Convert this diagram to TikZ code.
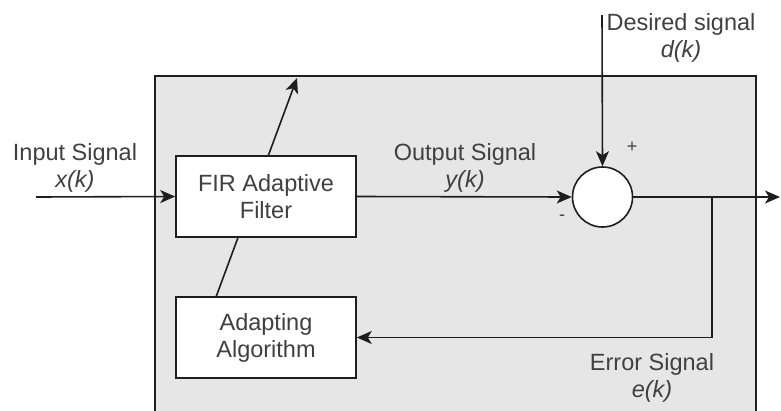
\documentclass[tikz,border=0pt]{standalone}
\usepackage{fontspec}
\setmainfont{Liberation Sans}
\usepackage{tikz}
\usetikzlibrary{arrows.meta}

\definecolor{panelgray}{RGB}{230,230,230}
\definecolor{linegray}{RGB}{30,30,30}
\definecolor{txtgray}{RGB}{64,64,64}

\tikzset{
  blockbox/.style={draw=linegray,fill=white,line width=1.6pt,minimum width=180pt,minimum height=81pt,inner sep=0pt,align=center,text=txtgray},
  sumnode/.style={draw=linegray,fill=white,circle,line width=1.6pt,minimum size=60pt,inner sep=0pt},
  siglabel/.style={inner sep=0pt,align=center,text=txtgray},
  sig/.style={draw=linegray,line width=1.6pt,-{Stealth[length=15pt,width=13pt,inset=4pt]}},
  wire/.style={draw=linegray,line width=1.6pt}
}

\begin{document}
\begin{tikzpicture}[x=1pt,y=1pt,yscale=-1,xscale=1,font=\fontsize{23.5}{27}\selectfont]
\clip (0,0) rectangle (781,410);

%Shape: Rectangle [panel]
\draw [draw=linegray,fill=panelgray,line width=1.6pt] (155,76) rectangle (756,430);

%Coordinates for free ends
\coordinate (inend) at (36,197);
\coordinate (dtop) at (602,15);
\coordinate (outend) at (780,197);
\coordinate (branch) at (712,197);
\coordinate (adfoot) at (216,297);
\coordinate (adtip) at (297,78);

%Straight Lines [adaptation arrow, behind the blocks]
\draw [sig] (adfoot) -- (adtip);

%Shape: Rectangle [FIR filter]
\node [blockbox] (fir) at (266,196.5) {FIR Adaptive\\Filter};
%Shape: Rectangle [adapting algorithm]
\node [blockbox] (alg) at (266,337.5) {Adapting\\Algorithm};
%Shape: Circle [summing junction]
\node [sumnode] (sum) at (602.5,197) {};

%Straight Lines [input]
\draw [sig] (inend) -- (fir.west);
%Straight Lines [output of filter]
\draw [sig] (fir.east) -- (sum.west);
%Straight Lines [desired]
\draw [sig] (dtop) -- (sum.north);
%Straight Lines [output]
\draw [sig] (sum.east) -- (outend);
%Straight Lines [error feedback]
\draw [sig] (branch) |- (alg.east);

% Text Node
\node [siglabel] (inlabel) at (75,168) {Input Signal\\\textit{x(k)}};
% Text Node
\node [siglabel] (outlabel) at (465,168) {Output Signal\\\textit{y(k)}};
% Text Node
\node [siglabel] (dlabel) at (681,38) {Desired signal\\\textit{d(k)}};
% Text Node
\node [siglabel] (elabel) at (652,378) {Error Signal\\\textit{e(k)}};
% Text Node
\node [siglabel,font=\fontsize{18}{20}\selectfont] (plus) at (632,147) {+};
% Text Node
\node [siglabel,font=\fontsize{18}{20}\selectfont] (minus) at (562,218) {-};

\end{tikzpicture}
\end{document}
